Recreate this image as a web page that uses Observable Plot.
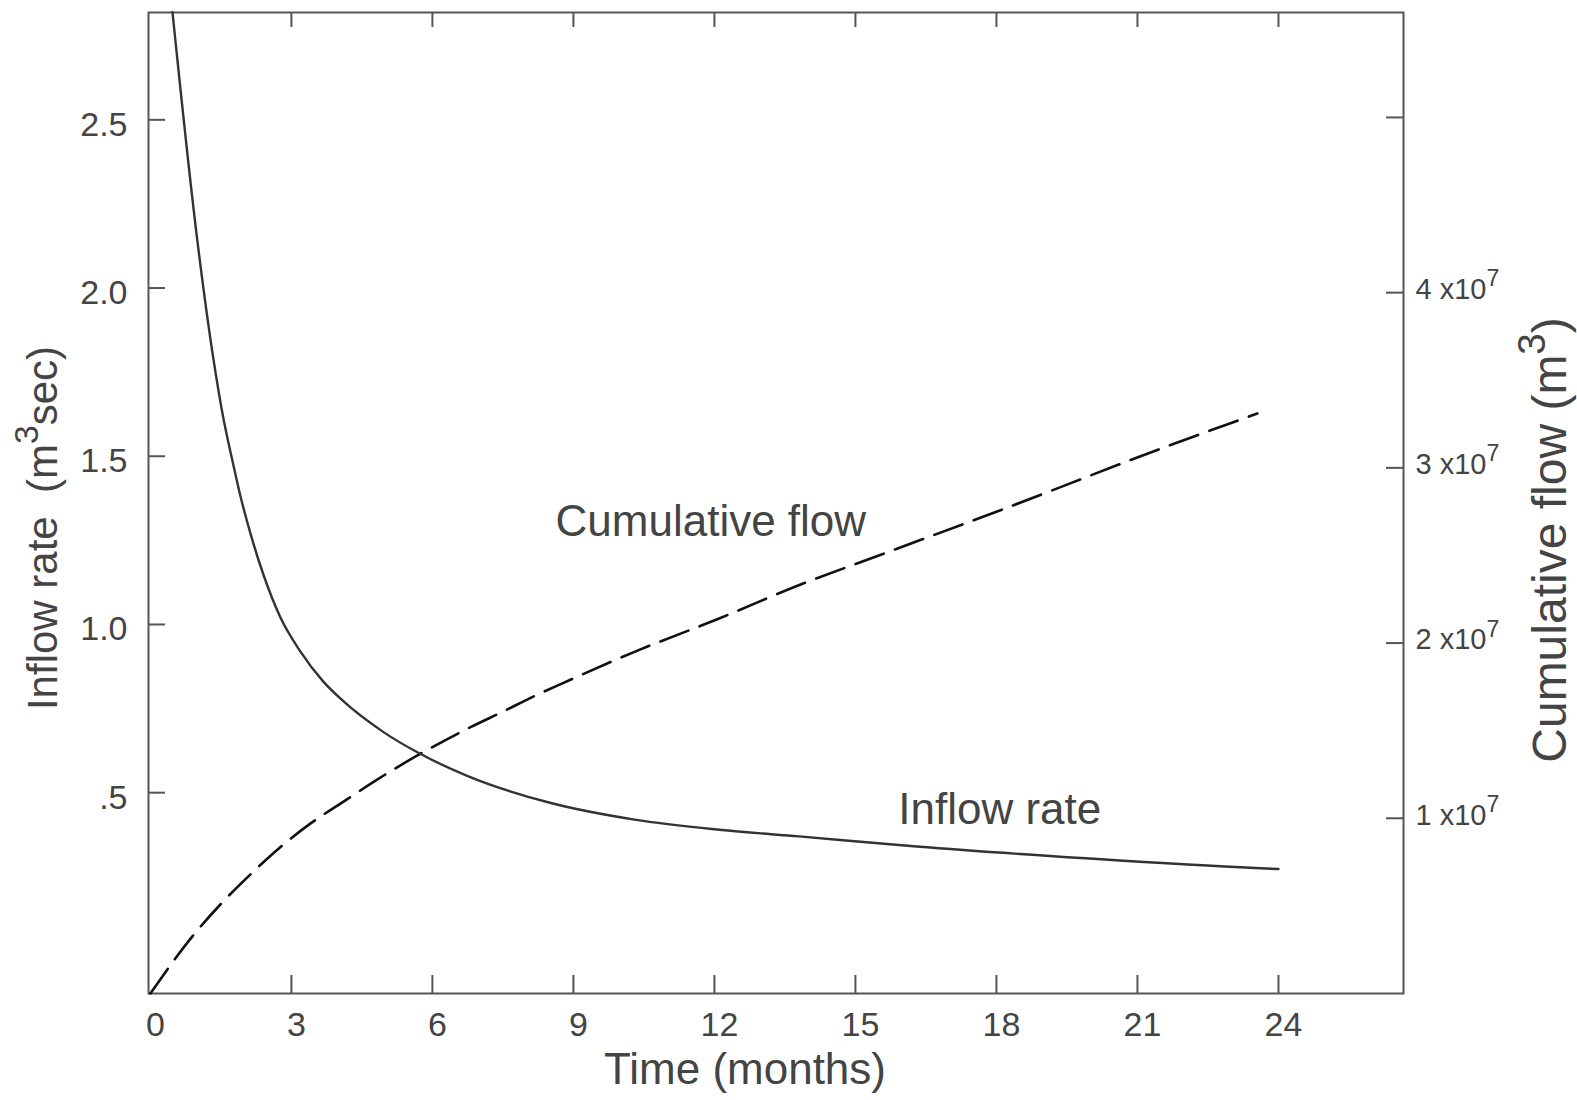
<!DOCTYPE html>
<html><head><meta charset="utf-8">
<script src="https://cdn.jsdelivr.net/npm/d3@7"></script>
<script src="https://cdn.jsdelivr.net/npm/@observablehq/plot@0.6"></script>
<style>
html,body{margin:0;padding:0;background:#fff;}
svg text{font-family:"Liberation Sans",Arial,sans-serif;}
</style></head><body><div id="chart"></div>
<script>
// ---- data ----
const inflowMonths = [0.47, 1.0, 1.34, 1.53, 1.74, 1.91, 2.13, 2.4, 2.77, 3.19, 3.68, 4.04, 4.96, 5.68, 6.74, 8.5, 10.3, 12.1, 13.8, 16.3, 19.9, 23.5, 24];
const inflowRate   = [2.82, 2.14, 1.79, 1.63, 1.49, 1.385, 1.27, 1.15, 1.02, 0.92, 0.83, 0.78, 0.68, 0.62, 0.55, 0.47, 0.42, 0.39, 0.37, 0.34, 0.305, 0.276, 0.273];
const cumMonths = [0, 0.89, 1.51, 2.13, 2.72, 3.38, 4.11, 4.79, 5.40, 6.13, 6.81, 7.51, 8.19, 8.89, 10.3, 12.1, 13.7, 15.6, 18.1, 21.5, 23.55];
const cumFlow   = [0, 3.25e6, 5.14e6, 6.80e6, 8.25e6, 9.65e6, 1.095e7, 1.215e7, 1.315e7, 1.425e7, 1.52e7, 1.61e7, 1.70e7, 1.785e7, 1.95e7, 2.14e7, 2.32e7, 2.51e7, 2.76e7, 3.11e7, 3.31e7];

const timeTicks  = [3, 6, 9, 12, 15, 18, 21, 24];
const timeLabels = [0, 3, 6, 9, 12, 15, 18, 21, 24];
const rateTicks  = [0.5, 1.0, 1.5, 2.0, 2.5];
const rateLabels = [".5", "1.0", "1.5", "2.0", "2.5"];
const cumTicks   = [1e7, 2e7, 3e7, 4e7, 5e7];
const cumLabelValues = [1e7, 2e7, 3e7, 4e7];
const cumLabels  = ["1 x10⁷", "2 x10⁷", "3 x10⁷", "4 x10⁷"];
const noteText   = ["Cumulative flow", "Inflow rate"];
const noteMonth  = [8.62, 15.91];
const noteRate   = [1.306, 0.45];

// ---- tables ----
const inflow = inflowMonths.map((t, i) => ({t, v: inflowRate[i]}));
const cumulative = cumMonths.map((t, i) => ({t, c: cumFlow[i]}));
const rateLab = rateTicks.map((v, i) => ({v, label: rateLabels[i]}));
const cumLab = cumLabelValues.map((c, i) => ({c, label: cumLabels[i]}));
const notes = noteText.map((text, i) => ({text, t: noteMonth[i], v: noteRate[i]}));

// secondary (right) axis: cumulative m³ expressed on the inflow-rate scale
const cumToRate = c => -0.0969 + 0.5208 * c / 1e7;

const W = 1577, H = 1100, mL = 148, mR = 174, mT = 12, mB = 107;
const plotW = W - mL - mR, plotH = H - mT - mB;
const ink = "#555", textInk = "#444";

const chart = Plot.plot({
  width: W, height: H,
  marginLeft: mL, marginRight: mR, marginTop: mT, marginBottom: mB,
  x: {domain: [-0.04, 26.66], axis: null},
  y: {domain: [-0.0969, 2.819], axis: null},
  style: {background: "#fff", fontFamily: "'Liberation Sans', Arial, sans-serif"},
  marks: [
    Plot.frame({stroke: ink, strokeWidth: 2}),
    // inward ticks
    Plot.tickX(timeTicks, {x: d => d, insetTop: plotH - 18, stroke: ink, strokeWidth: 2}),
    Plot.tickX(timeTicks, {x: d => d, insetBottom: plotH - 15, stroke: ink, strokeWidth: 2}),
    Plot.tickY(rateTicks, {y: d => d, insetRight: plotW - 17, stroke: ink, strokeWidth: 2}),
    Plot.tickY(cumTicks, {y: cumToRate, insetLeft: plotW - 17, stroke: ink, strokeWidth: 2}),
    // tick labels
    Plot.text(timeLabels, {x: d => d, text: d => String(d), frameAnchor: "bottom", dy: 32, dx: 5, lineAnchor: "middle", fontSize: 34, fill: textInk}),
    Plot.text(rateLab, {y: "v", text: "label", frameAnchor: "left", textAnchor: "end", dx: -21, dy: 5, lineAnchor: "middle", fontSize: 34, fill: textInk}),
    Plot.text(cumLab, {y: d => cumToRate(d.c), text: "label", frameAnchor: "right", textAnchor: "start", dx: 12, dy: -3, lineAnchor: "middle", fontSize: 29, fill: textInk}),
    // axis titles
    Plot.text(["Time (months)"], {text: d => d, frameAnchor: "bottom", textAnchor: "middle", dx: -31, dy: 76, lineAnchor: "middle", fontSize: 44, fill: textInk}),
    Plot.text(["Inflow rate  (m³sec)"], {text: d => d, frameAnchor: "left", textAnchor: "middle", rotate: -90, dx: -105, dy: 25, lineAnchor: "middle", fontSize: 42, fill: textInk}),
    Plot.text(["Cumulative flow (m³)"], {text: d => d, frameAnchor: "right", textAnchor: "middle", rotate: -90, dx: 147, dy: 37, lineAnchor: "middle", fontSize: 48, fill: textInk}),
    // series
    Plot.line(cumulative, {x: "t", y: d => cumToRate(d.c), curve: "monotone-x", stroke: "#111", strokeWidth: 2.6, strokeDasharray: "30,12"}),
    Plot.line(inflow, {x: "t", y: "v", curve: "monotone-x", stroke: "#333", strokeWidth: 2.4}),
    // annotations
    Plot.text(notes, {x: "t", y: "v", text: "text", textAnchor: "start", lineAnchor: "middle", fontSize: 44, fill: textInk})
  ]
});

// raise superscript characters as real (larger) superscript tspans
const supMap = {"³": "3", "⁷": "7"};
d3.select(chart).selectAll("text").each(function () {
  const s = this.textContent;
  const m = s.match(/[³⁷]/);
  if (!m || this.children.length) return;
  const i = m.index;
  const pre = s.slice(0, i), sup = supMap[m[0]], post = s.slice(i + 1);
  const el = d3.select(this);
  el.text(pre);
  el.append("tspan").attr("dy", "-0.55em").attr("font-size", "0.8em").text(sup);
  if (post) el.append("tspan").attr("dy", "0.44em").text(post);
});

document.getElementById("chart").appendChild(chart);
</script>
</body></html>
